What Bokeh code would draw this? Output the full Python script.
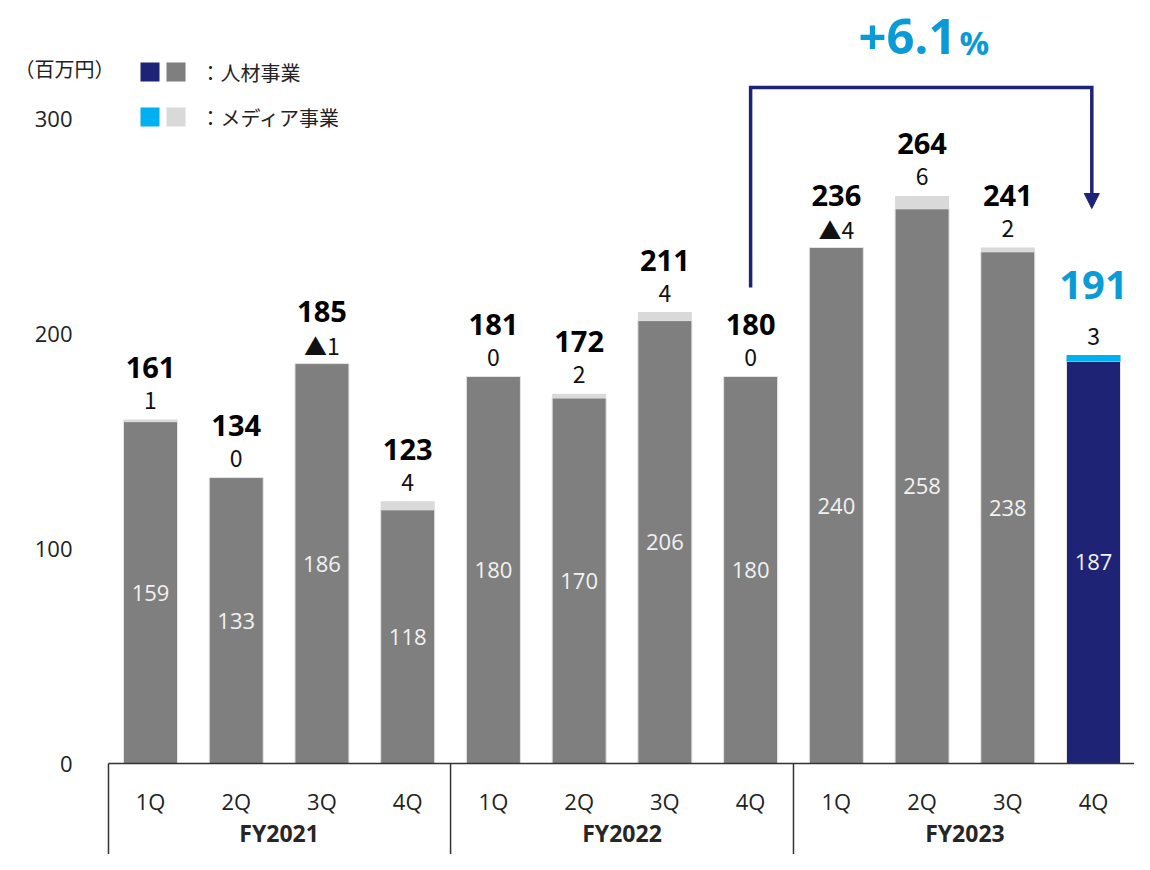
from bokeh.plotting import figure
from bokeh.models import ColumnDataSource, Range1d, Arrow, NormalHead
from bokeh.core.properties import value
from bokeh.embed import file_html
from bokeh.resources import INLINE

# ---------------- data ----------------
years = ["FY2021", "FY2022", "FY2023"]
quarters = ["1Q", "2Q", "3Q", "4Q"]
hr = [159, 133, 186, 118, 180, 170, 206, 180, 240, 258, 238, 187]
media = [1, 0, -1, 4, 0, 2, 4, 0, -4, 6, 2, 3]
totals = [161, 134, 185, 123, 181, 172, 211, 180, 236, 264, 241, 191]
y_ticks = [0, 100, 200, 300]
growth_num = "+6.1"
growth_pct = "%"
unit_label = "（百万円）"
legend_labels = ["：人材事業", "：メディア事業"]

# ---------------- layout helpers ----------------
W, H = 1134, 854
SLOT = 85.73      # px per category
UNIT = 2.15       # px per value unit
X0, Y0 = 150, 763  # px of first bar centre / zero line


def dx(px):
    return (px - X0) / SLOT


def dy(py):
    return (Y0 - py) / UNIT


GRAY = "#7F7F7F"
LIGHT = "#D9D9D9"
NAVY = "#1F2376"
CYAN = "#00B0F0"
CYAN_TXT = "#0A9BD7"
NUM_FONT = value("Open Sans")
JP_FONT = value("Noto Sans CJK JP")

p = figure(width=W, height=H, output_backend="svg", toolbar_location=None,
           x_range=Range1d(dx(0), dx(W)),
           y_range=Range1d(dy(H), dy(0)),
           min_border=0, min_border_left=0, min_border_right=0,
           min_border_top=0, min_border_bottom=0)
p.axis.visible = False
p.grid.visible = False
p.outline_line_color = None
p.background_fill_color = "white"
p.border_fill_color = "white"

n = len(hr)
xs = list(range(n))
last = n - 1
hr_colors = [NAVY if i == last else GRAY for i in xs]
md_colors = [CYAN if i == last else LIGHT for i in xs]
md_top = [h + max(m, 0) for h, m in zip(hr, media)]
bar_top = md_top

MEDIA_OFF = 19 / UNIT
TOTAL_OFF = 52 / UNIT

src = ColumnDataSource(dict(
    x=xs, hr=hr, md_top=md_top, hr_c=hr_colors, md_c=md_colors,
    hr_mid=[h / 2 for h in hr],
    hr_txt=[str(h) for h in hr],
    md_txt=[("▲" + str(-m)) if m < 0 else str(m) for m in media],
    md_y=[t + MEDIA_OFF for t in bar_top],
))

BW = 54 / SLOT
p.vbar(x="x", bottom=0, top="hr", width=BW, fill_color="hr_c",
       line_color="#E4E4E4", line_width=1, source=src)
p.vbar(x="x", bottom="hr", top="md_top", width=BW, fill_color="md_c",
       line_color=None, source=src)

# inside labels
p.text(x="x", y="hr_mid", text="hr_txt", source=src, text_align="center",
       text_baseline="middle", text_font=NUM_FONT, text_font_size="22px",
       text_color="#F2F2F2")
# media labels
p.text(x="x", y="md_y", text="md_txt", source=src, text_align="center",
       text_baseline="alphabetic", text_font=JP_FONT, text_font_size="23px",
       text_color="#111111")
# total labels
reg = [i for i in xs if i != last]
p.text(x=reg, y=[bar_top[i] + TOTAL_OFF for i in reg],
       text=[str(totals[i]) for i in reg], text_align="center",
       text_baseline="alphabetic", text_font=NUM_FONT, text_font_size="29px",
       text_font_style="bold", text_color="#000000")
p.text(x=[last], y=[bar_top[last] + TOTAL_OFF + 18 / UNIT],
       text=[str(totals[last])],
       text_align="center", text_baseline="alphabetic", text_font=NUM_FONT,
       text_font_size="40px", text_font_style="bold", text_color=CYAN_TXT)

# y tick labels
p.text(x=[dx(72)] * len(y_ticks), y=y_ticks, text=[str(t) for t in y_ticks],
       text_align="right", text_baseline="middle", text_font=NUM_FONT,
       text_font_size="22px", text_color="#222222")

# category axis table
left_edge = -0.49
right_edge = n - 1 + 0.49
bottom = dy(H)
p.segment(x0=[left_edge], y0=[0], x1=[right_edge], y1=[0],
          line_color="#333333", line_width=1.5)
nq = len(quarters)
div_x = [left_edge] + [g * nq - 0.5 for g in range(1, len(years))]
p.segment(x0=div_x, y0=[0] * len(div_x), x1=div_x, y1=[bottom] * len(div_x),
          line_color="#333333", line_width=1.5)
p.text(x=xs, y=[dy(800)] * n, text=[quarters[i % nq] for i in xs],
       text_align="center", text_baseline="middle", text_font=NUM_FONT,
       text_font_size="22px", text_color="#222222")
p.text(x=[g * nq + (nq - 1) / 2 for g in range(len(years))],
       y=[dy(832)] * len(years), text=years, text_align="center",
       text_baseline="middle", text_font=NUM_FONT, text_font_size="23px",
       text_font_style="bold", text_color="#262626")

# growth arrow
a_from = n - 5   # 4Q FY2022
a_to = last      # 4Q FY2023
y_low, y_top, y_tip = dy(287), dy(87), dy(208)
p.line(x=[a_from, a_from, a_to - 0.02, a_to - 0.02],
       y=[y_low, y_top, y_top, y_tip + 10 / UNIT],
       line_color=NAVY, line_width=3.5, line_join="miter")
p.add_layout(Arrow(end=NormalHead(size=15, fill_color=NAVY, line_color=NAVY),
                   x_start=a_to - 0.02, y_start=y_tip + 12 / UNIT,
                   x_end=a_to - 0.02, y_end=y_tip,
                   line_color=NAVY, line_width=3.5))
p.text(x=[dx(956)], y=[dy(36)], text=[growth_num], text_align="right",
       text_baseline="middle", text_font=NUM_FONT, text_font_size="49px",
       text_font_style="bold", text_color=CYAN_TXT)
p.text(x=[dx(959)], y=[dy(42)], text=[growth_pct], text_align="left",
       text_baseline="middle", text_font=NUM_FONT, text_font_size="33px",
       text_font_style="bold", text_color=CYAN_TXT)

# unit + legend
p.text(x=[dx(14)], y=[dy(68)], text=[unit_label], text_align="left",
       text_baseline="middle", text_font=JP_FONT, text_font_size="20px",
       text_color="#222222")
row_y = [dy(71.5), dy(116.5)]
p.rect(x=[dx(149.5)] * 2 + [dx(175.5)] * 2, y=row_y + row_y,
       width=19, height=19, width_units="screen", height_units="screen",
       fill_color=[NAVY, CYAN, GRAY, LIGHT], line_color=None)
p.text(x=[dx(200)] * 2, y=row_y, text=legend_labels, text_align="left",
       text_baseline="middle", text_font=JP_FONT, text_font_size="20px",
       text_color="#222222")

open("out.html", "w").write(file_html(p, INLINE))
